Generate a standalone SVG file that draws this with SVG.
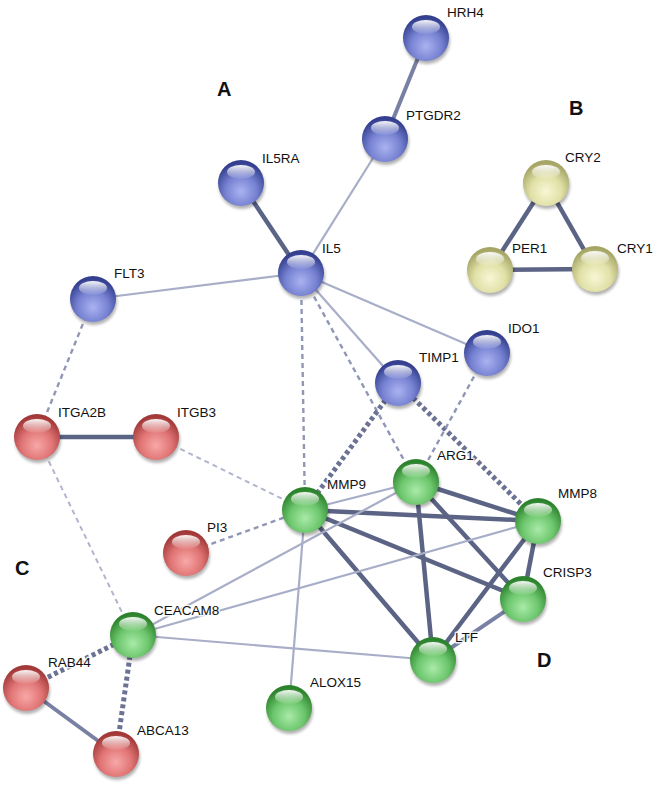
<svg xmlns="http://www.w3.org/2000/svg" width="661" height="787" viewBox="0 0 661 787">
<defs>
<radialGradient id="gBlue" cx="50%" cy="68%" r="62%"><stop offset="0" stop-color="#aab3f0"/><stop offset="0.55" stop-color="#7681d2"/><stop offset="1" stop-color="#34408f"/></radialGradient>
<radialGradient id="gGreen" cx="50%" cy="68%" r="62%"><stop offset="0" stop-color="#a9eaa9"/><stop offset="0.55" stop-color="#6cc66c"/><stop offset="1" stop-color="#2d832d"/></radialGradient>
<radialGradient id="gRed" cx="50%" cy="68%" r="62%"><stop offset="0" stop-color="#f8a8a8"/><stop offset="0.55" stop-color="#e07474"/><stop offset="1" stop-color="#a23838"/></radialGradient>
<radialGradient id="gYellow" cx="50%" cy="68%" r="62%"><stop offset="0" stop-color="#f7f7d6"/><stop offset="0.55" stop-color="#e0e0a6"/><stop offset="1" stop-color="#a5a566"/></radialGradient>
<linearGradient id="hl" x1="0" y1="0" x2="0" y2="1"><stop offset="0" stop-color="#fff" stop-opacity="0.95"/><stop offset="1" stop-color="#fff" stop-opacity="0.05"/></linearGradient>
<filter id="blur" x="-30%" y="-30%" width="160%" height="160%"><feGaussianBlur stdDeviation="1.6"/></filter>
</defs>
<style>
.e{fill:none;stroke-linecap:butt}
.thick{stroke:#5c6485;stroke-width:4.5}
.med{stroke:#7880a3;stroke-width:4}
.thin{stroke:#a8aec8;stroke-width:2.2}
.dash{stroke:#9097b5;stroke-width:2.4;stroke-dasharray:5 4}
.dashl{stroke:#b0b5cc;stroke-width:2;stroke-dasharray:5 4}
.dot{stroke:#6b7294;stroke-width:5;stroke-dasharray:4 3}
.sh{fill:#000;opacity:0.3;filter:url(#blur)}
.hl{fill:url(#hl)}
.b{fill:url(#gBlue)}
.g{fill:url(#gGreen)}
.r{fill:url(#gRed)}
.y{fill:url(#gYellow)}
text{font-family:"Liberation Sans",Arial,sans-serif;font-size:13.5px;fill:#111;stroke:#fff;stroke-width:3;stroke-opacity:0.85;paint-order:stroke;stroke-linejoin:round}
.big{font-size:20px;font-weight:bold;stroke:none}
</style>
<rect width="661" height="787" fill="#fff"/>
<g id="connectors">
<line class="e med" x1="426" y1="38" x2="385" y2="139"/>
<line class="e thin" x1="385" y1="139" x2="301" y2="273"/>
<line class="e thick" x1="241" y1="183" x2="301" y2="273"/>
<line class="e thin" x1="301" y1="273" x2="93" y2="299"/>
<line class="e thin" x1="301" y1="273" x2="487" y2="353"/>
<line class="e thin" x1="301" y1="273" x2="398" y2="383"/>
<line class="e dash" x1="301" y1="273" x2="305" y2="510"/>
<line class="e dash" x1="301" y1="273" x2="416" y2="482"/>
<line class="e thick" x1="546" y1="183" x2="490" y2="270"/>
<line class="e thick" x1="546" y1="183" x2="595" y2="269"/>
<line class="e thick" x1="490" y1="270" x2="595" y2="269"/>
<line class="e dash" x1="93" y1="299" x2="37" y2="437"/>
<line class="e thick" x1="37" y1="437" x2="156" y2="437"/>
<line class="e dashl" x1="37" y1="437" x2="133" y2="635"/>
<line class="e dashl" x1="156" y1="437" x2="305" y2="510"/>
<line class="e dash" x1="186" y1="553" x2="305" y2="510"/>
<line class="e dot" x1="398" y1="383" x2="305" y2="510"/>
<line class="e dot" x1="398" y1="383" x2="538" y2="521"/>
<line class="e dash" x1="487" y1="353" x2="416" y2="482"/>
<line class="e thin" x1="305" y1="510" x2="416" y2="482"/>
<line class="e thick" x1="305" y1="510" x2="538" y2="521"/>
<line class="e thick" x1="305" y1="510" x2="523" y2="599"/>
<line class="e thick" x1="305" y1="510" x2="433" y2="660"/>
<line class="e thin" x1="305" y1="510" x2="289" y2="708"/>
<line class="e thick" x1="416" y1="482" x2="538" y2="521"/>
<line class="e thick" x1="416" y1="482" x2="523" y2="599"/>
<line class="e thick" x1="416" y1="482" x2="433" y2="660"/>
<line class="e thin" x1="416" y1="482" x2="133" y2="635"/>
<line class="e thick" x1="538" y1="521" x2="523" y2="599"/>
<line class="e thick" x1="538" y1="521" x2="433" y2="660"/>
<line class="e thin" x1="538" y1="521" x2="133" y2="635"/>
<line class="e med" x1="523" y1="599" x2="433" y2="660"/>
<line class="e thin" x1="133" y1="635" x2="433" y2="660"/>
<line class="e dot" x1="133" y1="635" x2="26" y2="688"/>
<line class="e dot" x1="133" y1="635" x2="116" y2="754"/>
<line class="e med" x1="26" y1="688" x2="116" y2="754"/>
</g>
<g id="HRH4"><circle class="sh" cx="427" cy="41" r="23"/><circle class="b" cx="426" cy="38" r="23"/><ellipse class="hl" cx="426" cy="27" rx="14" ry="7"/><text x="447" y="17">HRH4</text></g>
<g id="PTGDR2"><circle class="sh" cx="386" cy="142" r="23"/><circle class="b" cx="385" cy="139" r="23"/><ellipse class="hl" cx="385" cy="128" rx="14" ry="7"/><text x="406" y="120">PTGDR2</text></g>
<g id="IL5RA"><circle class="sh" cx="242" cy="186" r="23"/><circle class="b" cx="241" cy="183" r="23"/><ellipse class="hl" cx="241" cy="172" rx="14" ry="7"/><text x="262" y="163">IL5RA</text></g>
<g id="IL5"><circle class="sh" cx="302" cy="276" r="23"/><circle class="b" cx="301" cy="273" r="23"/><ellipse class="hl" cx="301" cy="262" rx="14" ry="7"/><text x="322" y="253">IL5</text></g>
<g id="FLT3"><circle class="sh" cx="94" cy="302" r="23"/><circle class="b" cx="93" cy="299" r="23"/><ellipse class="hl" cx="93" cy="288" rx="14" ry="7"/><text x="114" y="278">FLT3</text></g>
<g id="IDO1"><circle class="sh" cx="488" cy="356" r="23"/><circle class="b" cx="487" cy="353" r="23"/><ellipse class="hl" cx="487" cy="342" rx="14" ry="7"/><text x="508" y="333">IDO1</text></g>
<g id="TIMP1"><circle class="sh" cx="399" cy="386" r="23"/><circle class="b" cx="398" cy="383" r="23"/><ellipse class="hl" cx="398" cy="372" rx="14" ry="7"/><text x="419" y="362">TIMP1</text></g>
<g id="CRY2"><circle class="sh" cx="547" cy="186" r="23"/><circle class="y" cx="546" cy="183" r="23"/><ellipse class="hl" cx="546" cy="172" rx="14" ry="7"/><text x="565" y="162">CRY2</text></g>
<g id="PER1"><circle class="sh" cx="491" cy="273" r="23"/><circle class="y" cx="490" cy="270" r="23"/><ellipse class="hl" cx="490" cy="259" rx="14" ry="7"/><text x="512" y="253">PER1</text></g>
<g id="CRY1"><circle class="sh" cx="596" cy="272" r="23"/><circle class="y" cx="595" cy="269" r="23"/><ellipse class="hl" cx="595" cy="258" rx="14" ry="7"/><text x="617" y="253">CRY1</text></g>
<g id="ITGA2B"><circle class="sh" cx="38" cy="440" r="23"/><circle class="r" cx="37" cy="437" r="23"/><ellipse class="hl" cx="37" cy="426" rx="14" ry="7"/><text x="58" y="417">ITGA2B</text></g>
<g id="ITGB3"><circle class="sh" cx="157" cy="440" r="23"/><circle class="r" cx="156" cy="437" r="23"/><ellipse class="hl" cx="156" cy="426" rx="14" ry="7"/><text x="177" y="417">ITGB3</text></g>
<g id="MMP9"><circle class="sh" cx="306" cy="513" r="23"/><circle class="g" cx="305" cy="510" r="23"/><ellipse class="hl" cx="305" cy="499" rx="14" ry="7"/><text x="327" y="489">MMP9</text></g>
<g id="ARG1"><circle class="sh" cx="417" cy="485" r="23"/><circle class="g" cx="416" cy="482" r="23"/><ellipse class="hl" cx="416" cy="471" rx="14" ry="7"/><text x="437" y="460">ARG1</text></g>
<g id="MMP8"><circle class="sh" cx="539" cy="524" r="23"/><circle class="g" cx="538" cy="521" r="23"/><ellipse class="hl" cx="538" cy="510" rx="14" ry="7"/><text x="558" y="498">MMP8</text></g>
<g id="PI3"><circle class="sh" cx="187" cy="556" r="23"/><circle class="r" cx="186" cy="553" r="23"/><ellipse class="hl" cx="186" cy="542" rx="14" ry="7"/><text x="207" y="532">PI3</text></g>
<g id="CRISP3"><circle class="sh" cx="524" cy="602" r="23"/><circle class="g" cx="523" cy="599" r="23"/><ellipse class="hl" cx="523" cy="588" rx="14" ry="7"/><text x="543" y="577">CRISP3</text></g>
<g id="CEACAM8"><circle class="sh" cx="134" cy="638" r="23"/><circle class="g" cx="133" cy="635" r="23"/><ellipse class="hl" cx="133" cy="624" rx="14" ry="7"/><text x="154" y="615">CEACAM8</text></g>
<g id="LTF"><circle class="sh" cx="434" cy="663" r="23"/><circle class="g" cx="433" cy="660" r="23"/><ellipse class="hl" cx="433" cy="649" rx="14" ry="7"/><text x="455" y="642">LTF</text></g>
<g id="RAB44"><circle class="sh" cx="27" cy="691" r="23"/><circle class="r" cx="26" cy="688" r="23"/><ellipse class="hl" cx="26" cy="677" rx="14" ry="7"/><text x="48" y="667">RAB44</text></g>
<g id="ALOX15"><circle class="sh" cx="290" cy="711" r="23"/><circle class="g" cx="289" cy="708" r="23"/><ellipse class="hl" cx="289" cy="697" rx="14" ry="7"/><text x="310" y="687">ALOX15</text></g>
<g id="ABCA13"><circle class="sh" cx="117" cy="757" r="23"/><circle class="r" cx="116" cy="754" r="23"/><ellipse class="hl" cx="116" cy="743" rx="14" ry="7"/><text x="137" y="735">ABCA13</text></g>
<g id="labels">
<text class="big" x="217" y="96">A</text>
<text class="big" x="569" y="115">B</text>
<text class="big" x="15" y="575">C</text>
<text class="big" x="537" y="667">D</text>
</g>
</svg>
